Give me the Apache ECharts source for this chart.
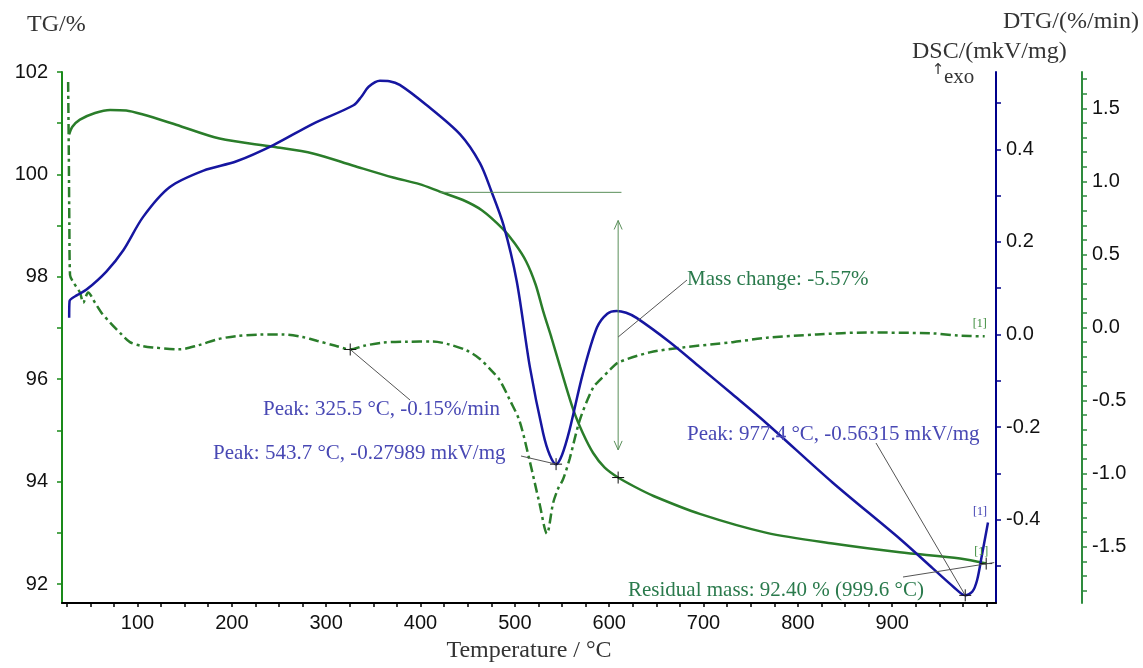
<!DOCTYPE html>
<html>
<head>
<meta charset="utf-8">
<title>TG / DTG / DSC</title>
<script src="https://cdn.jsdelivr.net/npm/echarts@6/dist/echarts.min.js"></script>
<style>
html,body{margin:0;padding:0;background:#fff;}
#chart{width:1143px;height:668px;}
</style>
</head>
<body>
<div id="chart"></div>
<script>
// TG 曲线 [温度, %]
var tgData = [[27.6,100.78],[31,100.93],[39,101.07],[55,101.2],[71,101.26],[88,101.25],[106,101.17],[141,100.97],
  [187,100.70],[244,100.54],[286,100.41],[329,100.17],[371,99.94],[399,99.81],[421,99.66],[445,99.50],[465,99.30],
  [487,98.94],[500,98.65],[512,98.30],[522,97.85],[530,97.33],[539,96.80],[548,96.24],[562,95.40],[572,94.95],
  [583,94.56],[595,94.28],[609.5,94.08],[627,93.90],[647,93.72],[696,93.37],[767,93.00],[837,92.79],[908,92.62],
  [972,92.50],[999.6,92.40]];
// DSC 曲线 [温度, mkV/mg]
var dscData = [[27.6,0.036],[28,0.072],[36,0.085],[46,0.097],[67,0.136],[85,0.182],[106,0.254],[134,0.318],
  [170,0.354],[205,0.374],[244,0.409],[286,0.455],[329,0.495],[337.5,0.514],[345,0.535],[357,0.548],[367,0.547],
  [378,0.539],[406,0.496],[442,0.432],[463,0.37],[475,0.31],[488,0.236],[502,0.115],[516,-0.071],
  [530,-0.213],[537,-0.26],[543.7,-0.28],[550,-0.26],[558,-0.206],[572,-0.085],[587,0.015],[598,0.045],[608,0.051],
  [618,0.047],[629,0.036],[664,-0.016],[696,-0.07],[730,-0.128],[767,-0.192],[837,-0.32],[908,-0.441],[943,-0.505],
  [965,-0.545],[977.4,-0.563],[985,-0.555],[990,-0.53],[995,-0.477],[1001.5,-0.406]];
// DTG 曲线 [温度, %/min]
var dtgData = [[26.5,1.68],[27.2,1.2],[27.8,0.7],[28.5,0.36],[32,0.31],[39,0.24],[42.5,0.17],[47.7,0.24],[55,0.17],
  [62,0.1],[71,0.034],[82,-0.04],[92,-0.10],[104,-0.125],[116,-0.136],[145,-0.149],[165,-0.12],[185,-0.08],
  [205,-0.058],[230,-0.048],[254,-0.047],[275,-0.065],[290,-0.09],[310,-0.125],[325.5,-0.15],[340,-0.125],
  [360,-0.103],[385,-0.097],[413,-0.095],[430,-0.115],[449,-0.157],[463,-0.215],[476,-0.30],[484,-0.36],[495,-0.5],
  [505,-0.64],[516,-0.92],[526,-1.2],[534,-1.41],[540.6,-1.2],[546,-1.1],[551,-1.04],[558,-0.90],[569,-0.63],
  [583,-0.41],[590,-0.36],[600.7,-0.29],[609.5,-0.24],[643,-0.17],[678,-0.136],[731,-0.10],[767,-0.07],
  [820,-0.047],[873,-0.034],[943,-0.04],[970,-0.055],[998,-0.06]];

// 坐标轴刻度
var xTicks = [25,50,75,100,125,150,175,200,225,250,275,300,325,350,375,400,425,450,475,500,525,550,575,600,
  625,650,675,700,725,750,775,800,825,850,875,900,925,950,975,1000];
var xLabels = [100,200,300,400,500,600,700,800,900];
var tgTicks = [92,93,94,95,96,97,98,99,100,101,102];
var tgLabels = [92,94,96,98,100,102];
var dscTicks = [-0.5,-0.4,-0.3,-0.2,-0.1,0,0.1,0.2,0.3,0.4,0.5];
var dscLabels = [-0.4,-0.2,0,0.2,0.4];
var dtgTicks = [-1.8,-1.7,-1.6,-1.5,-1.4,-1.3,-1.2,-1.1,-1.0,-0.9,-0.8,-0.7,-0.6,-0.5,-0.4,-0.3,-0.2,-0.1,0,
  0.1,0.2,0.3,0.4,0.5,0.6,0.7,0.8,0.9,1.0,1.1,1.2,1.3,1.4,1.5,1.6,1.7];
var dtgLabels = [-1.5,-1.0,-0.5,0,0.5,1.0,1.5];

// 标注点
var tgMarks = [[609.5,94.08],[999.6,92.40]];
var dtgPeak = [325.5,-0.15];
var dscPeaks = [[543.7,-0.27989],[977.4,-0.56315]];
var massLevel = [[421,99.65],[613,99.65]];
var massArrow = [[609.5,99.10],[609.5,94.62]];

var GREEN = '#2a7d2a', BLUE = '#1616a0', NAVY = '#00008b';
var SERIF = '"Liberation Serif","Times New Roman",serif';
var SANS = '"Liberation Sans",Arial,sans-serif';

function valAxis(o){
    return {
        type:'value', min:o.min, max:o.max, position:o.pos, offset:o.offset||0,
        axisLine:{show:true, onZero:false, lineStyle:{color:o.color, width:2}},
        axisTick:{show:true, length:5, customValues:o.ticks, lineStyle:{color:o.color, width:1.5}},
        axisLabel:{customValues:o.labels, color:'#111', fontSize:20, fontFamily:SANS, margin:o.margin||10,
            formatter:o.fmt},
        splitLine:{show:false}
    };
}

var option = {
    animation:false,
    backgroundColor:'#fff',
    grid:{left:62, right:147, top:72, bottom:60},
    xAxis:{
        type:'value', min:20, max:1010,
        axisLine:{show:true, onZero:false, lineStyle:{color:'#000', width:2}},
        axisTick:{show:true, length:4, customValues:xTicks, lineStyle:{color:'#000', width:1.5}},
        axisLabel:{customValues:xLabels, color:'#111', fontSize:20, fontFamily:SANS, margin:10},
        splitLine:{show:false},
        name:'Temperature / °C', nameLocation:'middle', nameGap:36,
        nameTextStyle:{fontFamily:SERIF, fontSize:24, color:'#333'}
    },
    yAxis:[
        valAxis({min:91.63, max:102.0, pos:'left', color:'#1a8a1a', ticks:tgTicks, labels:tgLabels, margin:14,
            fmt:function(v){return String(v);}}),
        valAxis({min:-0.5797, max:0.5668, pos:'right', color:NAVY, ticks:dscTicks, labels:dscLabels, margin:10,
            fmt:function(v){return v.toFixed(1);}}),
        valAxis({min:-1.885, max:1.749, pos:'right', offset:86, color:'#2e8b3e', ticks:dtgTicks, labels:dtgLabels,
            margin:10, fmt:function(v){return v.toFixed(1);}})
    ],
    series:[
        {name:'TG', type:'line', yAxisIndex:0, data:tgData, showSymbol:false, smooth:0.3,
            lineStyle:{color:GREEN, width:2.5}, z:3},
        {name:'DSC', type:'line', yAxisIndex:1, data:dscData, showSymbol:false, smooth:0.3,
            lineStyle:{color:BLUE, width:2.5}, z:4},
        {name:'DTG', type:'line', yAxisIndex:2, data:dtgData, showSymbol:false, smooth:0.3,
            lineStyle:{color:GREEN, width:2.5, type:[10,4,3,4]}, z:3}
    ]
};

var chart = echarts.init(document.getElementById('chart'));
chart.setOption(option);

function px(axis, p){ return chart.convertToPixel({xAxisIndex:0, yAxisIndex:axis}, p); }
function seg(a, b, color, w){
    return {type:'line', z:10, shape:{x1:a[0], y1:a[1], x2:b[0], y2:b[1]}, style:{stroke:color, lineWidth:w||1}};
}
function cross(p){
    return [seg([p[0]-6,p[1]],[p[0]+6,p[1]],'#111'), seg([p[0],p[1]-6],[p[0],p[1]+6],'#111')];
}
function txt(s, x, y, color, size, font, align){
    return {type:'text', z:11, style:{text:s, x:x, y:y, fill:color, fontSize:size, fontFamily:font||SERIF,
        align:align||'left', verticalAlign:'middle'}};
}

var g = [];
var NOTE_BLUE = '#4848b4', NOTE_GREEN = '#2a7a4c', LEAD = '#555';
// 质量变化
var l0 = px(0, massLevel[0]), l1 = px(0, massLevel[1]);
g.push(seg(l0, l1, '#5a8f5a'));
var a0 = px(0, massArrow[0]), a1 = px(0, massArrow[1]);
g.push(seg(a0, a1, '#5a8f5a'));
g.push(seg(a0, [a0[0]-4, a0[1]+9], '#5a8f5a'), seg(a0, [a0[0]+4, a0[1]+9], '#5a8f5a'));
g.push(seg(a1, [a1[0]-4, a1[1]-9], '#5a8f5a'), seg(a1, [a1[0]+4, a1[1]-9], '#5a8f5a'));
var mid = [a0[0], 337];
g.push(seg(mid, [687, 280], LEAD));
g.push(txt('Mass change: -5.57%', 687, 279, NOTE_GREEN, 21));
// TG 标记
tgMarks.forEach(function(p){ g = g.concat(cross(px(0, p))); });
// DTG 峰
var dp = px(2, dtgPeak);
g = g.concat(cross(dp));
g.push(seg(dp, [410, 400], LEAD));
g.push(txt('Peak: 325.5 °C, -0.15%/min', 263, 409, NOTE_BLUE, 21));
// DSC 峰
var sp0 = px(1, dscPeaks[0]), sp1 = px(1, dscPeaks[1]);
g = g.concat(cross(sp0), cross(sp1));
g.push(seg([521, 456], sp0, LEAD));
g.push(txt('Peak: 543.7 °C, -0.27989 mkV/mg', 213, 453, NOTE_BLUE, 21));
g.push(seg([876, 443], sp1, LEAD));
g.push(txt('Peak: 977.4 °C, -0.56315 mkV/mg', 687, 434, NOTE_BLUE, 21));
// 残余质量
var rm = px(0, tgMarks[1]);
g.push(seg([903, 577], [rm[0]+8, rm[1]-1], LEAD));
g.push(txt('Residual mass: 92.40 % (999.6 °C)', 628, 590, NOTE_GREEN, 21));
// [1] 结束标记
var eTg = px(0, tgData[tgData.length-1]), eDsc = px(1, dscData[dscData.length-1]), eDtg = px(2, dtgData[dtgData.length-1]);
g.push(txt('[1]', eTg[0]-12, eTg[1]-12, '#3a8a3a', 12));
g.push(txt('[1]', eDsc[0]-15, eDsc[1]-11, '#3a3ab0', 12));
g.push(txt('[1]', eDtg[0]-12, eDtg[1]-12, '#3a8a3a', 12));
// 坐标轴标题
g.push(txt('TG/%', 27, 25, '#333', 24));
g.push(txt('DTG/(%/min)', 1003, 22, '#333', 24));
g.push(txt('DSC/(mkV/mg)', 912, 52, '#333', 24));
g.push(txt('↑', 938, 70, '#333', 15, '"DejaVu Sans",sans-serif', 'center'));
g.push(txt('exo', 944, 77, '#333', 21));

chart.setOption({graphic:g});
</script>
</body>
</html>
